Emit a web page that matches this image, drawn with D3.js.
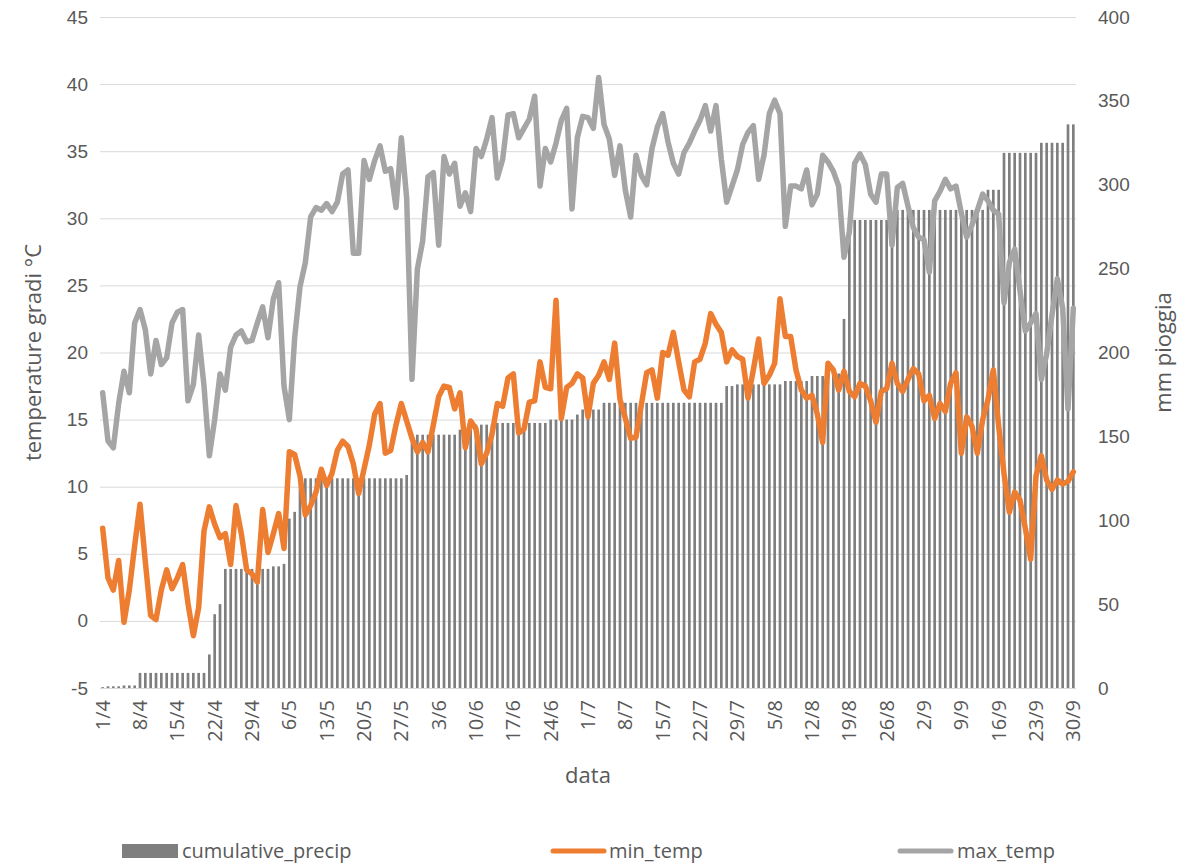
<!DOCTYPE html>
<html>
<head>
<meta charset="utf-8">
<script src="https://cdn.jsdelivr.net/npm/d3@7"></script>
<style>
  body { margin: 0; background: #fff; }
  svg { display: block; font-family: "Open Sans", sans-serif; }
</style>
</head>
<body>
<svg id="chart"></svg>
<script>
// Daily values, 1 April - 30 September
var maxTemp = [
  17.0, 13.4, 12.9, 16.2, 18.6, 17.0, 22.2,
  23.2, 21.7, 18.4, 20.9, 19.1, 19.6, 22.2,
  23.0, 23.2, 16.4, 17.6, 21.3, 17.5, 12.3,
  15.0, 18.4, 17.2, 20.4, 21.3, 21.6, 20.8,
  20.9, 22.2, 23.4, 21.1, 24.0, 25.2, 17.5,
  15.0, 21.1, 24.9, 26.7, 30.1, 30.8, 30.6,
  31.1, 30.5, 31.2, 33.3, 33.6, 27.4, 27.4,
  34.3, 32.9, 34.3, 35.4, 33.5, 33.7, 30.8,
  36.0, 31.5, 18.0, 26.2, 28.3, 33.1, 33.4,
  28.0, 34.6, 33.3, 34.1, 30.9, 31.9, 30.5,
  35.2, 34.6, 35.9, 37.5, 33.0, 34.4, 37.7,
  37.8, 36.0, 36.7, 37.4, 39.1, 32.4, 35.2,
  34.2, 35.6, 37.3, 38.2, 30.7, 36.0, 37.6,
  37.5, 36.7, 40.5, 37.0, 35.9, 33.2, 35.4,
  32.1, 30.1, 34.7, 33.2, 32.5, 35.2, 36.8,
  37.8, 35.7, 34.1, 33.3, 34.9, 35.6, 36.5,
  37.3, 38.4, 36.5, 38.4, 34.4, 31.2, 32.4,
  33.6, 35.5, 36.4, 36.9, 32.9, 34.7, 37.8,
  38.8, 37.8, 29.4, 32.4, 32.4, 32.2, 33.6,
  31.0, 31.8, 34.7, 34.2, 33.5, 32.4, 27.1,
  29.0, 34.1, 34.8, 34.0, 31.8, 31.2, 33.3,
  33.3, 28.0, 32.3, 32.6, 30.9, 29.3, 28.6,
  28.4, 26.0, 31.3, 32.0, 32.9, 32.2, 32.4,
  30.4, 28.6, 29.5, 30.6, 31.8, 31.3, 30.6,
  30.3, 23.7, 26.7, 27.7, 24.6, 21.6, 22.2,
  22.9, 18.0, 19.9, 22.8, 25.5, 23.3, 15.8,
  23.3
];

var minTemp = [
  6.9, 3.2, 2.3, 4.5, -0.1, 2.3, 5.6,
  8.7, 4.4, 0.4, 0.1, 2.3, 3.8, 2.4,
  3.2, 4.2, 1.3, -1.1, 1.0, 6.7, 8.5,
  7.2, 6.2, 6.5, 4.2, 8.6, 6.5, 3.8,
  3.5, 2.9, 8.3, 5.1, 6.5, 8.0, 5.4,
  12.6, 12.4, 10.8, 7.9, 8.6, 9.6, 11.3,
  10.1, 11.0, 12.7, 13.4, 13.0, 11.7, 9.5,
  11.3, 13.1, 15.4, 16.2, 12.5, 12.7, 14.6,
  16.2, 14.9, 13.6, 12.6, 13.3, 12.6, 14.6,
  16.7, 17.5, 17.4, 15.8, 17.0, 12.9, 14.9,
  14.3, 11.7, 12.5, 13.9, 16.2, 16.0, 18.1,
  18.4, 14.0, 14.3, 16.3, 16.4, 19.3, 17.4,
  17.3, 23.9, 15.1, 17.4, 17.7, 18.4, 18.1,
  15.2, 17.7, 18.3, 19.3, 18.0, 20.7, 16.5,
  15.1, 13.6, 13.7, 16.1, 18.5, 18.7, 16.6,
  20.0, 19.8, 21.5, 19.3, 17.2, 16.7, 19.3,
  19.5, 20.7, 22.9, 22.1, 21.5, 19.3, 20.2,
  19.7, 19.5, 16.6, 18.7, 21.0, 17.7, 18.3,
  19.2, 24.0, 21.2, 21.2, 18.7, 17.2, 16.6,
  16.8, 15.4, 13.3, 19.2, 18.7, 17.2, 18.6,
  17.1, 16.7, 17.7, 17.5, 16.4, 14.8, 17.1,
  17.3, 19.2, 17.7, 17.1, 18.0, 18.8, 18.4,
  16.4, 16.8, 15.1, 16.2, 15.6, 17.7, 18.5,
  12.5, 15.2, 14.5, 12.5, 15.0, 16.5, 18.7,
  14.5, 11.0, 8.1, 9.6, 9.0, 6.9, 4.6,
  10.8, 12.3, 10.5, 9.8, 10.5, 10.2, 10.4,
  11.1
];

var cumulativePrecip = [
  0.5, 1, 1, 1, 1.5, 1.5, 1.5,
  9, 9, 9, 9, 9, 9, 9,
  9, 9, 9, 9, 9, 9, 20,
  44, 50, 71, 71, 71, 71, 71,
  71, 71, 71, 71, 72.5, 72.5, 74,
  101, 105, 125, 125, 125, 125, 125,
  125, 125, 125, 125, 125, 125, 125,
  125, 125, 125, 125, 125, 125, 125,
  125, 127, 151, 151, 151, 151, 151,
  151, 151, 151, 151, 154, 154, 154,
  157, 157, 157, 157, 158, 158, 158,
  158, 158, 158, 158, 158, 158, 158,
  160, 160, 160, 160, 160, 163, 166,
  166, 166, 166, 170, 170, 170, 170,
  170, 170, 170, 170, 170, 170, 170,
  170, 170, 170, 170, 170, 170, 170,
  170, 170, 170, 170, 170, 180, 180,
  181, 181, 181, 181, 181, 181, 181,
  181, 181, 183, 183, 183, 183, 183,
  186, 186, 186, 187.5, 187.5, 187.5, 220,
  279, 279, 279, 279, 279, 279, 279,
  279, 279, 285, 285, 285, 285, 285,
  285, 285, 285, 285, 285, 285, 285,
  285, 285, 285, 285, 285, 297, 297,
  297, 319, 319, 319, 319, 319, 319,
  319, 325, 325, 325, 325, 325, 336,
  336
];

var tempTicks = [-5, 0, 5, 10, 15, 20, 25, 30, 35, 40, 45];
var rainTicks = [0, 50, 100, 150, 200, 250, 300, 350, 400];
var days = d3.timeDay.range(new Date(2019, 3, 1), new Date(2019, 9, 1));
var dayFormat = d3.timeFormat('%-d/%-m');

var chart = {
  width: 1196,
  height: 864,
  margin: { top: 17, right: 120, bottom: 176, left: 100 },

  init: function() {
    var self = this;

    self.plotW = self.width - self.margin.left - self.margin.right;
    self.plotH = self.height - self.margin.top - self.margin.bottom;

    self.svg = d3.select('#chart')
      .attr('width', self.width)
      .attr('height', self.height);

    self.x = d3.scaleBand()
      .domain(d3.range(days.length))
      .range([self.margin.left, self.margin.left + self.plotW])
      .paddingInner(0.5)
      .paddingOuter(0.25);

    self.yTemp = d3.scaleLinear()
      .domain([-5, 45])
      .range([self.margin.top + self.plotH, self.margin.top]);

    self.yRain = d3.scaleLinear()
      .domain([0, 400])
      .range([self.margin.top + self.plotH, self.margin.top]);

    self.drawAxes();
    self.drawBars();
    self.drawLines();
    self.drawLegend();
  },

  drawAxes: function() {
    var self = this;
    var right = self.margin.left + self.plotW;
    var bottom = self.margin.top + self.plotH;

    // gridlines
    self.svg.append('g')
      .attr('transform', 'translate(' + self.margin.left + ',0)')
      .call(d3.axisLeft(self.yTemp).tickValues(tempTicks).tickSize(-self.plotW).tickFormat(''))
      .call(function(g) { g.select('.domain').remove(); })
      .selectAll('line')
      .attr('stroke', '#d9d9d9')
      .attr('stroke-width', 1);

    // plain hyphen for "-5", like the original
    var left = self.svg.append('g')
      .attr('transform', 'translate(' + self.margin.left + ',0)')
      .call(d3.axisLeft(self.yTemp).tickValues(tempTicks).tickSize(0).tickPadding(12)
        .tickFormat(function(d) { return String(d); }));
    left.select('.domain').remove();
    left.selectAll('text')
      .attr('fill', '#595959')
      .style('font-size', '19px');

    var rightAxis = self.svg.append('g')
      .attr('transform', 'translate(' + right + ',0)')
      .call(d3.axisRight(self.yRain).tickValues(rainTicks).tickSize(0).tickPadding(22));
    rightAxis.select('.domain').remove();
    rightAxis.selectAll('text')
      .attr('fill', '#595959')
      .style('font-size', '19px');

    var bw = self.x.bandwidth();
    var labels = self.svg.append('g').attr('class', 'x-labels');
    labels.selectAll('text')
      .data(d3.range(0, days.length, 7))
      .enter().append('text')
      .attr('transform', function(i) {
        return 'translate(' + (self.x(i) + bw / 2) + ',' + (bottom + 12) + ') rotate(-90)';
      })
      .attr('text-anchor', 'end')
      .attr('dy', '0.35em')
      .attr('fill', '#595959')
      .style('font-size', '20px')
      .text(function(i) { return dayFormat(days[i]); });

    self.svg.append('text')
      .attr('x', self.margin.left + self.plotW / 2)
      .attr('y', 783)
      .attr('text-anchor', 'middle')
      .attr('fill', '#595959')
      .style('font-size', '22px')
      .text('data');

    self.svg.append('text')
      .attr('transform', 'translate(41,' + (self.margin.top + self.plotH / 2) + ') rotate(-90)')
      .attr('text-anchor', 'middle')
      .attr('fill', '#595959')
      .style('font-size', '22px')
      .text('temperature gradi °C');

    self.svg.append('text')
      .attr('transform', 'translate(1171,' + (self.margin.top + self.plotH / 2) + ') rotate(-90)')
      .attr('text-anchor', 'middle')
      .attr('fill', '#595959')
      .style('font-size', '22px')
      .text('mm pioggia');
  },

  drawBars: function() {
    var self = this;

    self.svg.append('g')
      .selectAll('rect')
      .data(cumulativePrecip)
      .enter().append('rect')
      .attr('x', function(d, i) { return self.x(i); })
      .attr('y', function(d) { return self.yRain(d); })
      .attr('width', self.x.bandwidth())
      .attr('height', function(d) { return self.yRain(0) - self.yRain(d); })
      .attr('fill', '#7f7f7f');
  },

  drawLines: function() {
    var self = this;
    var bw = self.x.bandwidth();

    var line = d3.line()
      .x(function(d, i) { return self.x(i) + bw / 2; })
      .y(function(d) { return self.yTemp(d); });

    self.svg.append('path')
      .datum(minTemp)
      .attr('d', line)
      .attr('fill', 'none')
      .attr('stroke', '#ed7d31')
      .attr('stroke-width', 5.5)
      .attr('stroke-linejoin', 'round')
      .attr('stroke-linecap', 'round');

    self.svg.append('path')
      .datum(maxTemp)
      .attr('d', line)
      .attr('fill', 'none')
      .attr('stroke', '#a5a5a5')
      .attr('stroke-width', 5.5)
      .attr('stroke-linejoin', 'round')
      .attr('stroke-linecap', 'round');
  },

  drawLegend: function() {
    var self = this;
    var y = 851;
    var legend = self.svg.append('g').attr('class', 'legend');

    legend.append('rect')
      .attr('x', 122).attr('y', y - 7)
      .attr('width', 56).attr('height', 14)
      .attr('fill', '#7f7f7f');

    legend.append('line')
      .attr('x1', 553).attr('x2', 604)
      .attr('y1', y).attr('y2', y)
      .attr('stroke', '#ed7d31').attr('stroke-width', 5)
      .attr('stroke-linecap', 'round');

    legend.append('line')
      .attr('x1', 900).attr('x2', 951)
      .attr('y1', y).attr('y2', y)
      .attr('stroke', '#a5a5a5').attr('stroke-width', 5)
      .attr('stroke-linecap', 'round');

    var items = [
      { label: 'cumulative_precip', x: 182 },
      { label: 'min_temp', x: 609 },
      { label: 'max_temp', x: 957 }
    ];

    legend.selectAll('text')
      .data(items)
      .enter().append('text')
      .attr('x', function(d) { return d.x; })
      .attr('y', y)
      .attr('dy', '0.35em')
      .attr('fill', '#595959')
      .style('font-size', '20px')
      .text(function(d) { return d.label; });
  }
};

chart.init();
</script>
</body>
</html>
